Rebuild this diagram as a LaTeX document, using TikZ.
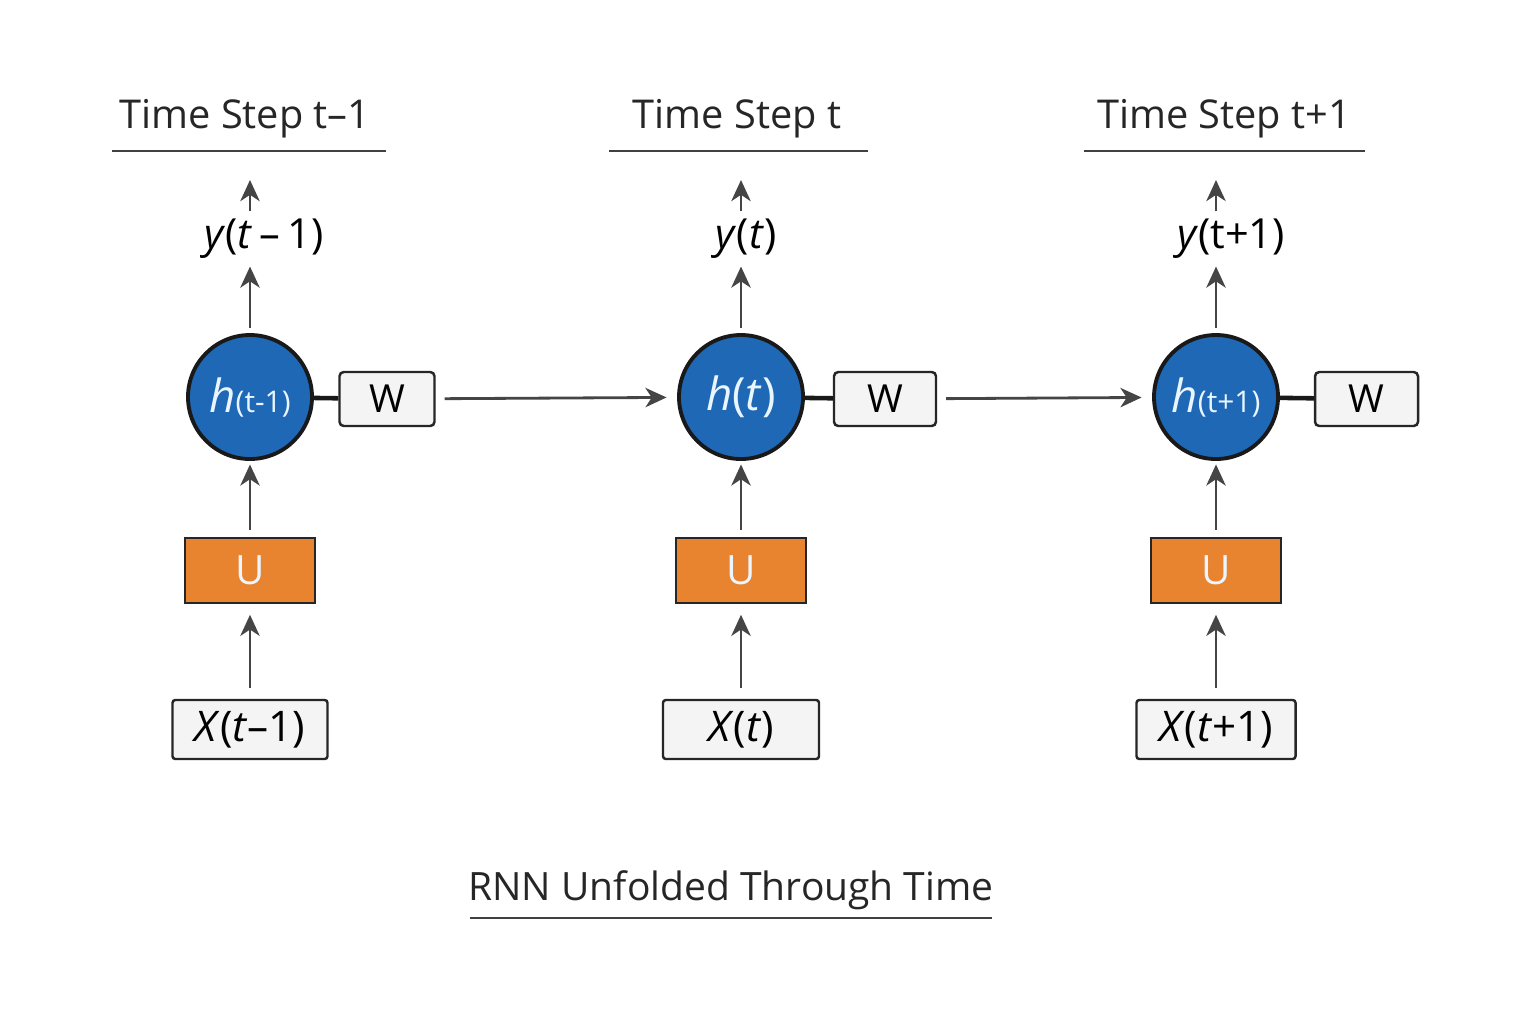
\documentclass[tikz,border=0pt]{standalone}
\usepackage{fontspec}
\setmainfont{Open Sans}
\usetikzlibrary{arrows.meta}
\definecolor{cellblue}{HTML}{1F68B6}
\definecolor{uorange}{HTML}{E8832F}
\definecolor{boxgray}{HTML}{F4F4F4}
\definecolor{arrowgray}{HTML}{454545}
\definecolor{hwhite}{HTML}{EAF6FF}
\tikzset{
  steptitle/.style={font=\fontsize{11.3}{14}\selectfont, text=black!85, inner sep=0pt},
  state/.style={circle, draw=black!90, line width=1.1pt, fill=cellblue, minimum size=1.24cm,
    inner sep=0pt, text=hwhite, font=\fontsize{13}{15}\selectfont},
  wbox/.style={draw=black!85, line width=0.7pt, fill=boxgray, rounded corners=1.2pt,
    minimum height=0.54cm, inner sep=0pt, font=\fontsize{11}{13}\selectfont},
  ubox/.style={draw=black!85, line width=0.7pt, fill=uorange, minimum width=1.3cm,
    minimum height=0.65cm, inner sep=0pt, text=hwhite, font=\fontsize{11.5}{13}\selectfont},
  xbox/.style={draw=black!85, line width=0.7pt, fill=boxgray, rounded corners=0.8pt,
    minimum height=0.59cm, inner sep=0pt, font=\fontsize{12}{14}\selectfont},
  outlab/.style={inner sep=1pt, font=\fontsize{11.8}{14}\selectfont},
  flow/.style={draw=arrowgray, line width=0.8pt, -{Stealth[length=6pt,width=5.5pt,inset=1.8pt]}},
  tie/.style={draw=black!90, line width=1.3pt}
}
\begin{document}
\begin{tikzpicture}
  \useasboundingbox[fill=white] (0,0) rectangle (15.36,-10.24);

  % Zeitschritte
  \foreach \i/\x/\lx/\wx/\ww/\xw/\tx/\tl/\tr/\tname/\hlab/\ylab/\xlab in {
      1/2.50/2.64/3.87/0.95/1.55/2.45/1.12/3.86/{t–1}%
        /{\textit{h}{\fontsize{8.5}{10}\selectfont(t-1)}}%
        /{\textit{y}(\textit{t}\,–\,1)}/{\textit{X}(\textit{t}–1)},
      2/7.41/7.46/8.85/1.02/1.56/7.37/6.09/8.68/{t}%
        /{\textit{h}(\textit{t})}%
        /{\textit{y}(\textit{t})}/{\textit{X}(\textit{t})},
      3/12.16/12.31/13.665/1.03/1.59/12.24/10.84/13.65/{t+1}%
        /{\textit{h}{\fontsize{8.5}{10}\selectfont(t+1)}}%
        /{\textit{y}(t+1)}/{\textit{X}(\textit{t}+1)}
    } {
    \node[steptitle] (ts\i) at (\tx,-1.19) {Time Step \tname};
    \draw[black!75, line width=0.5pt] (\tl,-1.51) -- (\tr,-1.51);

    \node[outlab] (ylab\i) at (\lx,-2.39) {\ylab};
    \coordinate (top\i) at (\x,-1.80);
    \node[state] (h\i) at (\x,-3.97) {\hlab};
    \node[wbox, minimum width=\ww cm] (w\i) at (\wx,-3.99) {W};
    \node[ubox] (u\i) at (\x,-5.705) {U};
    \node[xbox, minimum width=\xw cm] (x\i) at (\x,-7.295) {\xlab};

    \draw[flow, shorten <=3pt, shorten >=3pt] (x\i) -- (u\i);
    \draw[flow, shorten <=2pt, shorten >=1pt] (u\i) -- (h\i);
    \draw[flow, shorten <=1.5pt, shorten >=1pt] (h\i.north) -- (h\i.north |- ylab\i.south);
    \draw[flow, shorten <=1pt] (top\i |- ylab\i.north) -- (top\i);
    \draw[tie] (h\i) -- (w\i);
  }

  % Rekurrenz
  \draw[flow, shorten <=2.5pt, shorten >=3pt] (w1) -- (h2);
  \draw[flow, shorten <=2.5pt, shorten >=3pt] (w2) -- (h3);

  \node[steptitle, font=\fontsize{11.1}{14}\selectfont] (caption) at (7.31,-8.90) {RNN Unfolded Through Time};
  \draw[black!75, line width=0.5pt] (4.70,-9.18) -- (9.92,-9.18);
\end{tikzpicture}
\end{document}
